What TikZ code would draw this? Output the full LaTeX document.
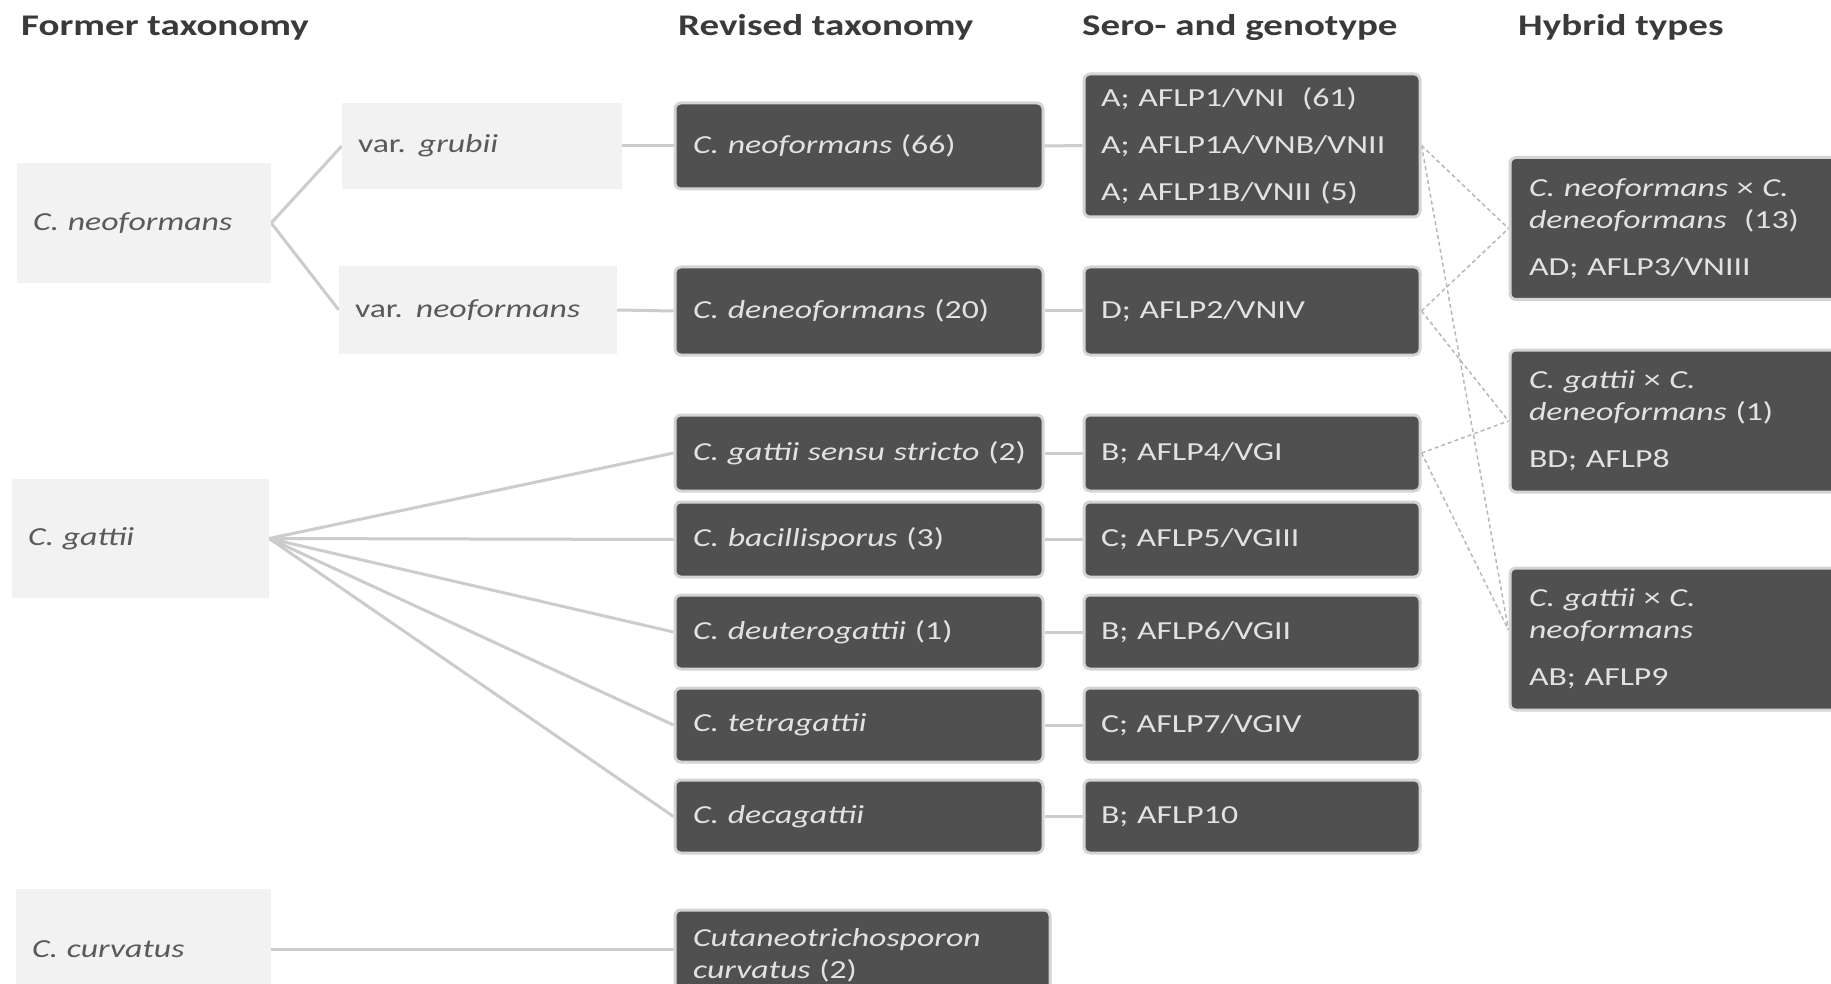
\documentclass[tikz,border=0pt]{standalone}
\usepackage{fontspec}
\setmainfont[FakeStretch=1.3]{Carlito}
\usetikzlibrary{backgrounds}
\definecolor{boxdark}{HTML}{505050}
\definecolor{boxedge}{HTML}{D4D4D4}
\definecolor{boxlight}{HTML}{F2F2F2}
\definecolor{linkgray}{HTML}{CCCCCC}
\definecolor{hybgray}{HTML}{B8B8B8}
\definecolor{darktext}{HTML}{E2E2E2}
\definecolor{lighttext}{HTML}{5A5A5A}
\definecolor{headtext}{HTML}{3A3A3A}

\begin{document}
\begin{tikzpicture}[x=1pt,y=-1pt,
  every node/.style={font=\fontsize{26}{32}\selectfont},
  head/.style={anchor=base west, inner sep=0pt, text=headtext,
    font=\fontsize{30}{36}\selectfont\bfseries},
  former/.style={fill=boxlight, text=lighttext, align=left,
    inner xsep=16pt, inner ysep=0pt},
  dark/.style={fill=boxdark, draw=boxedge, line width=3pt, rounded corners=6pt,
    text=darktext, align=left, inner ysep=0pt},
  revbox/.style={dark, minimum width=368pt, text width=332pt, inner xsep=18pt},
  serobox/.style={dark, minimum width=336pt, text width=302pt, inner xsep=17pt},
  hybbox/.style={dark, minimum width=340pt, text width=302pt, inner xsep=19pt,
    minimum height=142pt},
  link/.style={draw=linkgray, line width=3pt},
  hyblink/.style={draw=hybgray, line width=1.5pt, dash pattern=on 4pt off 3pt},
]
\useasboundingbox (0,0) rectangle (1831,984);
\clip (0,0) rectangle (1831,984);

% column headings
\node[head] (hF) at (21,36) {Former taxonomy};
\node[head] (hR) at (678,36) {Revised taxonomy};
\node[head] (hS) at (1082,36) {Sero- and genotype};
\node[head] (hH) at (1518,36) {Hybrid types};

% former taxonomy
\node[former, minimum width=254pt, minimum height=120pt, text width=222pt] (fN) at (144,223) {\textit{C. neoformans}};
\node[former, minimum width=280pt, minimum height=86pt, text width=248pt] (fG) at (482,146) {var. \textit{grubii}};
\node[former, minimum width=278pt, minimum height=87pt, text width=246pt] (fVN) at (478,310) {var. \textit{neoformans}};
\node[former, minimum width=257pt, minimum height=119pt, text width=225pt] (fGa) at (140.5,538.5) {\textit{C. gattii}};
\node[former, minimum width=255pt, minimum height=120pt, text width=223pt] (fCu) at (143.5,949) {\textit{C. curvatus}};

% revised taxonomy
\node[revbox, minimum height=86pt] (rN) at (859,146) {\textit{C. neoformans} (66)};
\node[revbox, minimum height=88pt] (rD) at (859,311) {\textit{C. deneoformans} (20)};
\node[revbox, minimum height=76pt] (rG1) at (859,453) {\mbox{\textit{C. gattii sensu stricto} (2)}};
\node[revbox, minimum height=75pt] (rG2) at (859,539.5) {\textit{C. bacillisporus} (3)};
\node[revbox, minimum height=74pt] (rG3) at (859,632) {\textit{C. deuterogattii} (1)};
\node[revbox, minimum height=74pt] (rG4) at (859,725) {\textit{C. tetragattii}};
\node[revbox, minimum height=73pt] (rG5) at (859,816.5) {\textit{C. decagattii}};
\node[dark, minimum width=375pt, text width=339pt, inner xsep=18pt, minimum height=90pt] (rCu) at (862.5,955) {\textit{Cutaneotrichosporon}\\\textit{curvatus} (2)};

% sero- and genotypes
\node[serobox, minimum height=143pt] (sA) at (1252,145.5) {A; AFLP1/VNI\ \ (61)\\[15pt]A; AFLP1A/VNB/VNII\\[15pt]A; AFLP1B/VNII (5)};
\node[serobox, minimum height=88pt] (sD) at (1252,311) {D; AFLP2/VNIV};
\node[serobox, minimum height=76pt] (sB4) at (1252,453) {B; AFLP4/VGI};
\node[serobox, minimum height=75pt] (sC5) at (1252,539.5) {C; AFLP5/VGIII};
\node[serobox, minimum height=74pt] (sB6) at (1252,632) {B; AFLP6/VGII};
\node[serobox, minimum height=74pt] (sC7) at (1252,725) {C; AFLP7/VGIV};
\node[serobox, minimum height=73pt] (sB10) at (1252,816.5) {B; AFLP10};

% hybrid types
\node[hybbox] (h1) at (1680,228.5) {\textit{C. neoformans} × \textit{C.}\\\textit{deneoformans}\ \ (13)\\[15pt]AD; AFLP3/VNIII};
\node[hybbox] (h2) at (1680,421) {\textit{C. gattii} × \textit{C.}\\\textit{deneoformans} (1)\\[15pt]BD; AFLP8};
\node[hybbox] (h3) at (1680,639) {\textit{C. gattii} × \textit{C.}\\\textit{neoformans}\\[15pt]AB; AFLP9};

\begin{pgfonlayer}{background}
  \fill[white] (0,0) rectangle (1831,984);
  % former -> revised
  \draw[link] (fN.east) -- (fG.west);
  \draw[link] (fN.east) -- (fVN.west);
  \draw[link] (fG.east) -- (rN.west);
  \draw[link] (fVN.east) -- (rD.west);
  \foreach \t in {rG1,rG2,rG3,rG4,rG5}
    \draw[link] (fGa.east) -- (\t.west);
  \draw[link] (fCu.east) -- (fCu.east -| rCu.west);
  % revised -> sero/genotype
  \draw[link] (rN.east) -- (sA.west);
  \draw[link] (rD.east) -- (sD.west);
  \draw[link] (rG1.east) -- (sB4.west);
  \draw[link] (rG2.east) -- (sC5.west);
  \draw[link] (rG3.east) -- (sB6.west);
  \draw[link] (rG4.east) -- (sC7.west);
  \draw[link] (rG5.east) -- (sB10.west);
  % parents of the hybrids
  \draw[hyblink] (sA.east) -- (h1.west);
  \draw[hyblink] (sD.east) -- (h1.west);
  \draw[hyblink] (sD.east) -- (h2.west);
  \draw[hyblink] (sB4.east) -- (h2.west);
  \draw[hyblink] (sA.east) -- ([yshift=9pt]h3.west);
  \draw[hyblink] (sB4.east) -- ([yshift=9pt]h3.west);
\end{pgfonlayer}
\end{tikzpicture}
\end{document}
